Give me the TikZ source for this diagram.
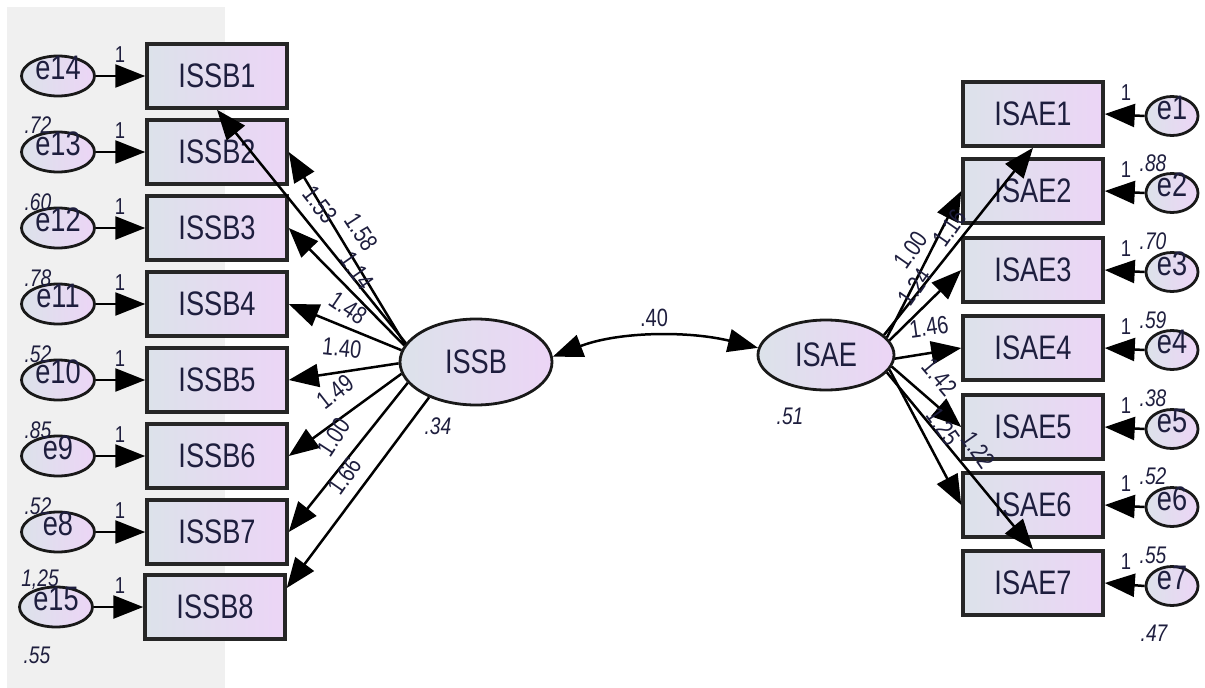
\documentclass[tikz,border=0pt]{standalone}
\usepackage{fontspec}
\setmainfont{Liberation Sans}
\newfontfamily\narfont[FakeStretch=0.8]{Liberation Sans}
\usetikzlibrary{arrows.meta,shapes.geometric}
\definecolor{boxL}{RGB}{220,226,234}
\definecolor{boxR}{RGB}{236,213,246}
\definecolor{ink}{RGB}{30,30,62}
\definecolor{bandgray}{RGB}{240,240,240}
\tikzset{
  bigfont/.style={font=\narfont\fontsize{34}{34}\selectfont},
  obs/.style={draw=black!85, line width=3.5pt, left color=boxL, right color=boxR,
    minimum width=140pt, minimum height=64pt, inner sep=0pt, bigfont, text=ink},
  lat/.style={ellipse, draw=black!90, line width=2.8pt, left color=boxL, right color=boxR,
    inner sep=0pt, bigfont, text=ink},
  err/.style={ellipse, draw=black!90, line width=2.8pt, left color=boxL, right color=boxR,
    minimum width=73pt, minimum height=40pt, inner sep=0pt, bigfont, text=ink,
    text height=0.72em, text depth=0pt},
  errR/.style={err, minimum width=52pt, minimum height=39pt},
  arr/.style={-{Triangle[length=30pt,width=23pt]}, line width=2.5pt, black},
  lab/.style={font=\narfont\fontsize{25}{25}\selectfont, text=ink, inner sep=0pt},
  one/.style={font=\narfont\fontsize{23}{23}\selectfont, text=ink, inner sep=0pt},
  var/.style={font=\narfont\itshape\fontsize{24}{24}\selectfont, text=ink, inner sep=0pt},
}
\begin{document}
\begin{tikzpicture}[x=1pt,y=-1pt]
\useasboundingbox (0,0) rectangle (1205,688);
\fill[bandgray] (7,7) rectangle (225,688);

% observed boxes (left)
\node[obs] (B1) at (217,76) {ISSB1};
\node[obs] (B2) at (217,152) {ISSB2};
\node[obs] (B3) at (217,228) {ISSB3};
\node[obs] (B4) at (217,304) {ISSB4};
\node[obs] (B5) at (217,380) {ISSB5};
\node[obs] (B6) at (217,456) {ISSB6};
\node[obs] (B7) at (217,532) {ISSB7};
\node[obs] (B8) at (215,607) {ISSB8};

% error terms (left)
\node[err] (e14) at (58,76) {e14};
\node[err] (e13) at (58,152) {e13};
\node[err] (e12) at (58,228) {e12};
\node[err] (e11) at (58,304) {e11};
\node[err] (e10) at (58,380) {e10};
\node[err] (e9) at (58,456) {e9};
\node[err] (e8) at (58,532) {e8};
\node[err] (e15) at (56,607) {e15};

% observed boxes (right)
\node[obs] (A1) at (1033,114) {ISAE1};
\node[obs] (A2) at (1033,191) {ISAE2};
\node[obs] (A3) at (1033,270) {ISAE3};
\node[obs] (A4) at (1033,348) {ISAE4};
\node[obs] (A5) at (1033,427) {ISAE5};
\node[obs] (A6) at (1033,505) {ISAE6};
\node[obs] (A7) at (1033,583) {ISAE7};

% error terms (right)
\node[errR] (e1) at (1172,116) {e1};
\node[errR] (e2) at (1172,193) {e2};
\node[errR] (e3) at (1172,272) {e3};
\node[errR] (e4) at (1172,350) {e4};
\node[errR] (e5) at (1172,429) {e5};
\node[errR] (e6) at (1172,507) {e6};
\node[errR] (e7) at (1172,586) {e7};

% latent variables
\node[lat, minimum width=152pt, minimum height=86pt] (ISSB) at (476,362) {ISSB};
\node[lat, minimum width=136pt, minimum height=70pt] (ISAE) at (826,355) {ISAE};

% error arrows
\foreach \e/\b in {e14/B1,e13/B2,e12/B3,e11/B4,e10/B5,e9/B6,e8/B7,e15/B8}
  \draw[arr] (\e.east) -- (\b.west);
\foreach \e/\b in {e1/A1,e2/A2,e3/A3,e4/A4,e5/A5,e6/A6,e7/A7}
  \draw[arr] (\e.west) -- (\b.east);

% loadings ISSB
\draw[arr] (ISSB.165) -- (B1.south);
\draw[arr] (ISSB.166) -- (B2.east);
\draw[arr] (ISSB.167) -- (B3.east);
\draw[arr] (ISSB.171) -- (B4.east);
\draw[arr] (ISSB.181) -- (B5.east);
\draw[arr] (ISSB.189) -- (B6.east);
\draw[arr] (ISSB.197) -- (B7.east);
\draw[arr] (ISSB.217) -- ([yshift=19pt]B8.east);

% loadings ISAE
\draw[arr] (ISAE.19) -- (A1.south);
\draw[arr] (ISAE.16) -- (A2.west);
\draw[arr] (ISAE.13) -- (A3.west);
\draw[arr] (ISAE.-3) -- (A4.west);
\draw[arr] (ISAE.-10) -- (A5.west);
\draw[arr] (ISAE.-13) -- (A6.west);
\draw[arr] (ISAE.-16) -- (A7.north);

% covariance
\draw[{Triangle[length=30pt,width=23pt]}-{Triangle[length=30pt,width=23pt]}, line width=2.5pt]
  (ISSB.4) .. controls (620,331) and (690,331) .. (ISAE.174);
\node[lab] (cov) at (654,318) {.40};

% fixed loadings "1"
\foreach \y/\n in {55/1,131/2,207/3,283/4,359/5,435/6,511/7,586/8}
  \node[one] (oneL\n) at (120,\y) {1};
\foreach \y/\n in {93/1,170/2,249/3,327/4,406/5,484/6,562/7}
  \node[one] (oneR\n) at (1126,\y) {1};

% variances left
\node[var] (vL1) at (38,125) {.72};
\node[var] (vL2) at (38,202) {.60};
\node[var] (vL3) at (38,278) {.78};
\node[var] (vL4) at (38,354) {.52};
\node[var] (vL5) at (38,430) {.85};
\node[var] (vL6) at (38,506) {.52};
\node[var] (vL7) at (40,580) {1,25};
\node[var] (vL8) at (37,655) {.55};
% variances right
\node[var] (vR1) at (1153,163) {.88};
\node[var] (vR2) at (1153,241) {.70};
\node[var] (vR3) at (1153,320) {.59};
\node[var] (vR4) at (1153,398) {.38};
\node[var] (vR5) at (1153,476) {.52};
\node[var] (vR6) at (1153,555) {.55};
\node[var] (vR7) at (1154,633) {.47};
\node[var] (vISSB) at (438,426) {.34};
\node[var] (vISAE) at (790,416) {.51};

% loading labels left
\node[lab, rotate=-52] (lb1) at (320,205) {1.53};
\node[lab, rotate=-57] (lb2) at (361,232) {1.58};
\node[lab, rotate=-55] (lb3) at (357,271) {1.14};
\node[lab, rotate=-34] (lb4) at (348,308) {1.48};
\node[lab, rotate=-6] (lb5) at (342,348) {1.40};
\node[lab, rotate=38] (lb6) at (335,392) {1.49};
\node[lab, rotate=57] (lb7) at (334,437) {1.00};
\node[lab, rotate=55] (lb8) at (345,476) {1.66};

% loading labels right
\node[lab, rotate=55] (la1) at (911,250) {1.00};
\node[lab, rotate=55] (la2) at (950,228) {1.16};
\node[lab, rotate=55] (la3) at (915,287) {1.24};
\node[lab, rotate=8] (la4) at (929,327) {1.46};
\node[lab, rotate=-50] (la5) at (940,377) {1.42};
\node[lab, rotate=-55] (la6) at (943,427) {1.25};
\node[lab, rotate=-55] (la7) at (978,450) {1.22};
\end{tikzpicture}
\end{document}
